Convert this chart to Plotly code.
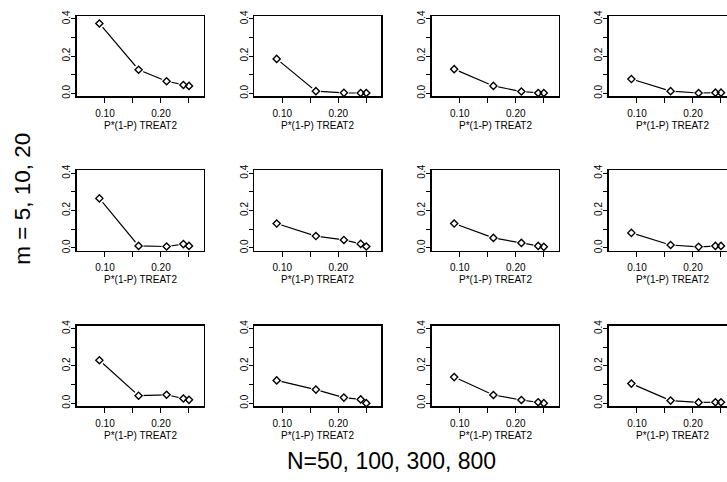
import plotly.graph_objects as go

# ---- data ----
x_vals = [0.09, 0.16, 0.21, 0.24, 0.25]
col_labels = ["N=50", "N=100", "N=300", "N=800"]
row_labels = ["m=5", "m=10", "m=20"]

m5_n50 = [0.375, 0.127, 0.065, 0.045, 0.040]
m5_n100 = [0.185, 0.012, 0.003, 0.002, 0.002]
m5_n300 = [0.130, 0.040, 0.010, 0.002, 0.002]
m5_n800 = [0.077, 0.012, 0.002, 0.004, 0.004]
m10_n50 = [0.265, 0.010, 0.007, 0.020, 0.010]
m10_n100 = [0.130, 0.063, 0.042, 0.021, 0.007]
m10_n300 = [0.130, 0.053, 0.026, 0.010, 0.005]
m10_n800 = [0.080, 0.015, 0.005, 0.010, 0.010]
m20_n50 = [0.230, 0.040, 0.045, 0.025, 0.018]
m20_n100 = [0.122, 0.073, 0.030, 0.020, 0.000]
m20_n300 = [0.140, 0.044, 0.017, 0.005, 0.000]
m20_n800 = [0.105, 0.014, 0.004, 0.005, 0.005]

panels = [
    [m5_n50, m5_n100, m5_n300, m5_n800],
    [m10_n50, m10_n100, m10_n300, m10_n800],
    [m20_n50, m20_n100, m20_n300, m20_n800],
]

x_tickvals = [0.10, 0.15, 0.20, 0.25]
x_ticktext = ["0.10", "", "0.20", ""]
y_tickvals = [0.0, 0.1, 0.2, 0.3, 0.4]
y_ticktext = ["0.0", "", "0.2", "", "0.4"]
x_title = "P*(1-P) TREAT2"
row_title = "m = 5, 10, 20"
col_title = "N=50, 100, 300, 800"

# ---- layout geometry (pixels) ----
W, H = 727, 482
col_left = [76.7, 254.0, 431.5, 608.7]
box_w = 127.3
row_top = [10.0, 167.0, 325.0]
box_h = 82.0
x_lo, x_hi = 0.0495, 0.2768
px_per_x = box_w / (x_hi - x_lo)
y_range = [-0.0165, 0.416]

FONT = "Liberation Sans, Arial, Helvetica, sans-serif"

fig = go.Figure()
layout = dict(
    width=W, height=H, autosize=False,
    margin=dict(l=0, r=0, t=0, b=0),
    paper_bgcolor="white", plot_bgcolor="white",
    showlegend=False,
    font=dict(family=FONT, color="black", size=10),
)
annotations = []

idx = 0
for r in range(3):
    for c in range(4):
        idx += 1
        xa = "x" if idx == 1 else f"x{idx}"
        ya = "y" if idx == 1 else f"y{idx}"
        left = col_left[c]
        right = min(left + box_w, W)
        xr = [x_lo, x_lo + (right - left) / px_per_x]
        top = row_top[r]
        bot = top + box_h
        yvals = panels[r][c]
        fig.add_trace(go.Scatter(x=x_vals, y=yvals, mode="lines",
                                 line=dict(color="black", width=1.2),
                                 xaxis=xa, yaxis=ya, cliponaxis=False, hoverinfo="skip"))
        fig.add_trace(go.Scatter(x=x_vals, y=yvals, mode="markers",
                                 marker=dict(symbol="circle", size=10, color="white",
                                             line=dict(width=0)),
                                 xaxis=xa, yaxis=ya, cliponaxis=False, hoverinfo="skip"))
        fig.add_trace(go.Scatter(x=x_vals, y=yvals, mode="markers",
                                 marker=dict(symbol="diamond-open", size=5.5, color="black",
                                             line=dict(width=1.4, color="black")),
                                 xaxis=xa, yaxis=ya, cliponaxis=False, hoverinfo="skip"))
        key_x = "xaxis" if idx == 1 else f"xaxis{idx}"
        key_y = "yaxis" if idx == 1 else f"yaxis{idx}"
        layout[key_x] = dict(
            domain=[left / W, right / W], range=xr, anchor=ya,
            showgrid=False, zeroline=False, showline=True, mirror=True,
            linecolor="black", linewidth=1.3,
            ticks="outside", ticklen=5, tickwidth=1, tickcolor="black",
            tickvals=x_tickvals, ticktext=x_ticktext,
            tickfont=dict(size=10, family=FONT, color="black"),
            ticklabelstandoff=2,
        )
        layout[key_y] = dict(
            domain=[1 - bot / H, 1 - top / H], range=y_range, anchor=xa,
            showgrid=False, zeroline=False, showline=True, mirror=(c < 3),
            linecolor="black", linewidth=1.3,
            ticks="outside", ticklen=4, tickwidth=1, tickcolor="black",
            tickvals=y_tickvals, ticktext=y_ticktext, tickangle=-90,
            tickfont=dict(size=10, family=FONT, color="black"),
            ticklabelstandoff=-3,
        )
        annotations.append(dict(
            text=x_title, xref="paper", yref="paper",
            x=(left + box_w / 2) / W, y=1 - (bot + 29.5) / H,
            xanchor="center", yanchor="middle", showarrow=False,
            font=dict(size=10, family=FONT, color="black"),
        ))

annotations.append(dict(
    text=row_title, xref="paper", yref="paper",
    x=23 / W, y=1 - 196 / H, xanchor="center", yanchor="middle",
    textangle=-90, showarrow=False,
    font=dict(size=22.5, family=FONT, color="black"),
))
annotations.append(dict(
    text=col_title, xref="paper", yref="paper",
    x=391 / W, y=1 - 463 / H, xanchor="center", yanchor="middle",
    showarrow=False,
    font=dict(size=23, family=FONT, color="black"),
))
layout["annotations"] = annotations
fig.update_layout(**layout)
fig.write_html(
    "out.html",
    config={"displayModeBar": False, "staticPlot": True},
    post_script="document.body.style.margin='0';document.body.style.padding='0';"
                "document.body.style.overflow='hidden';",
)
